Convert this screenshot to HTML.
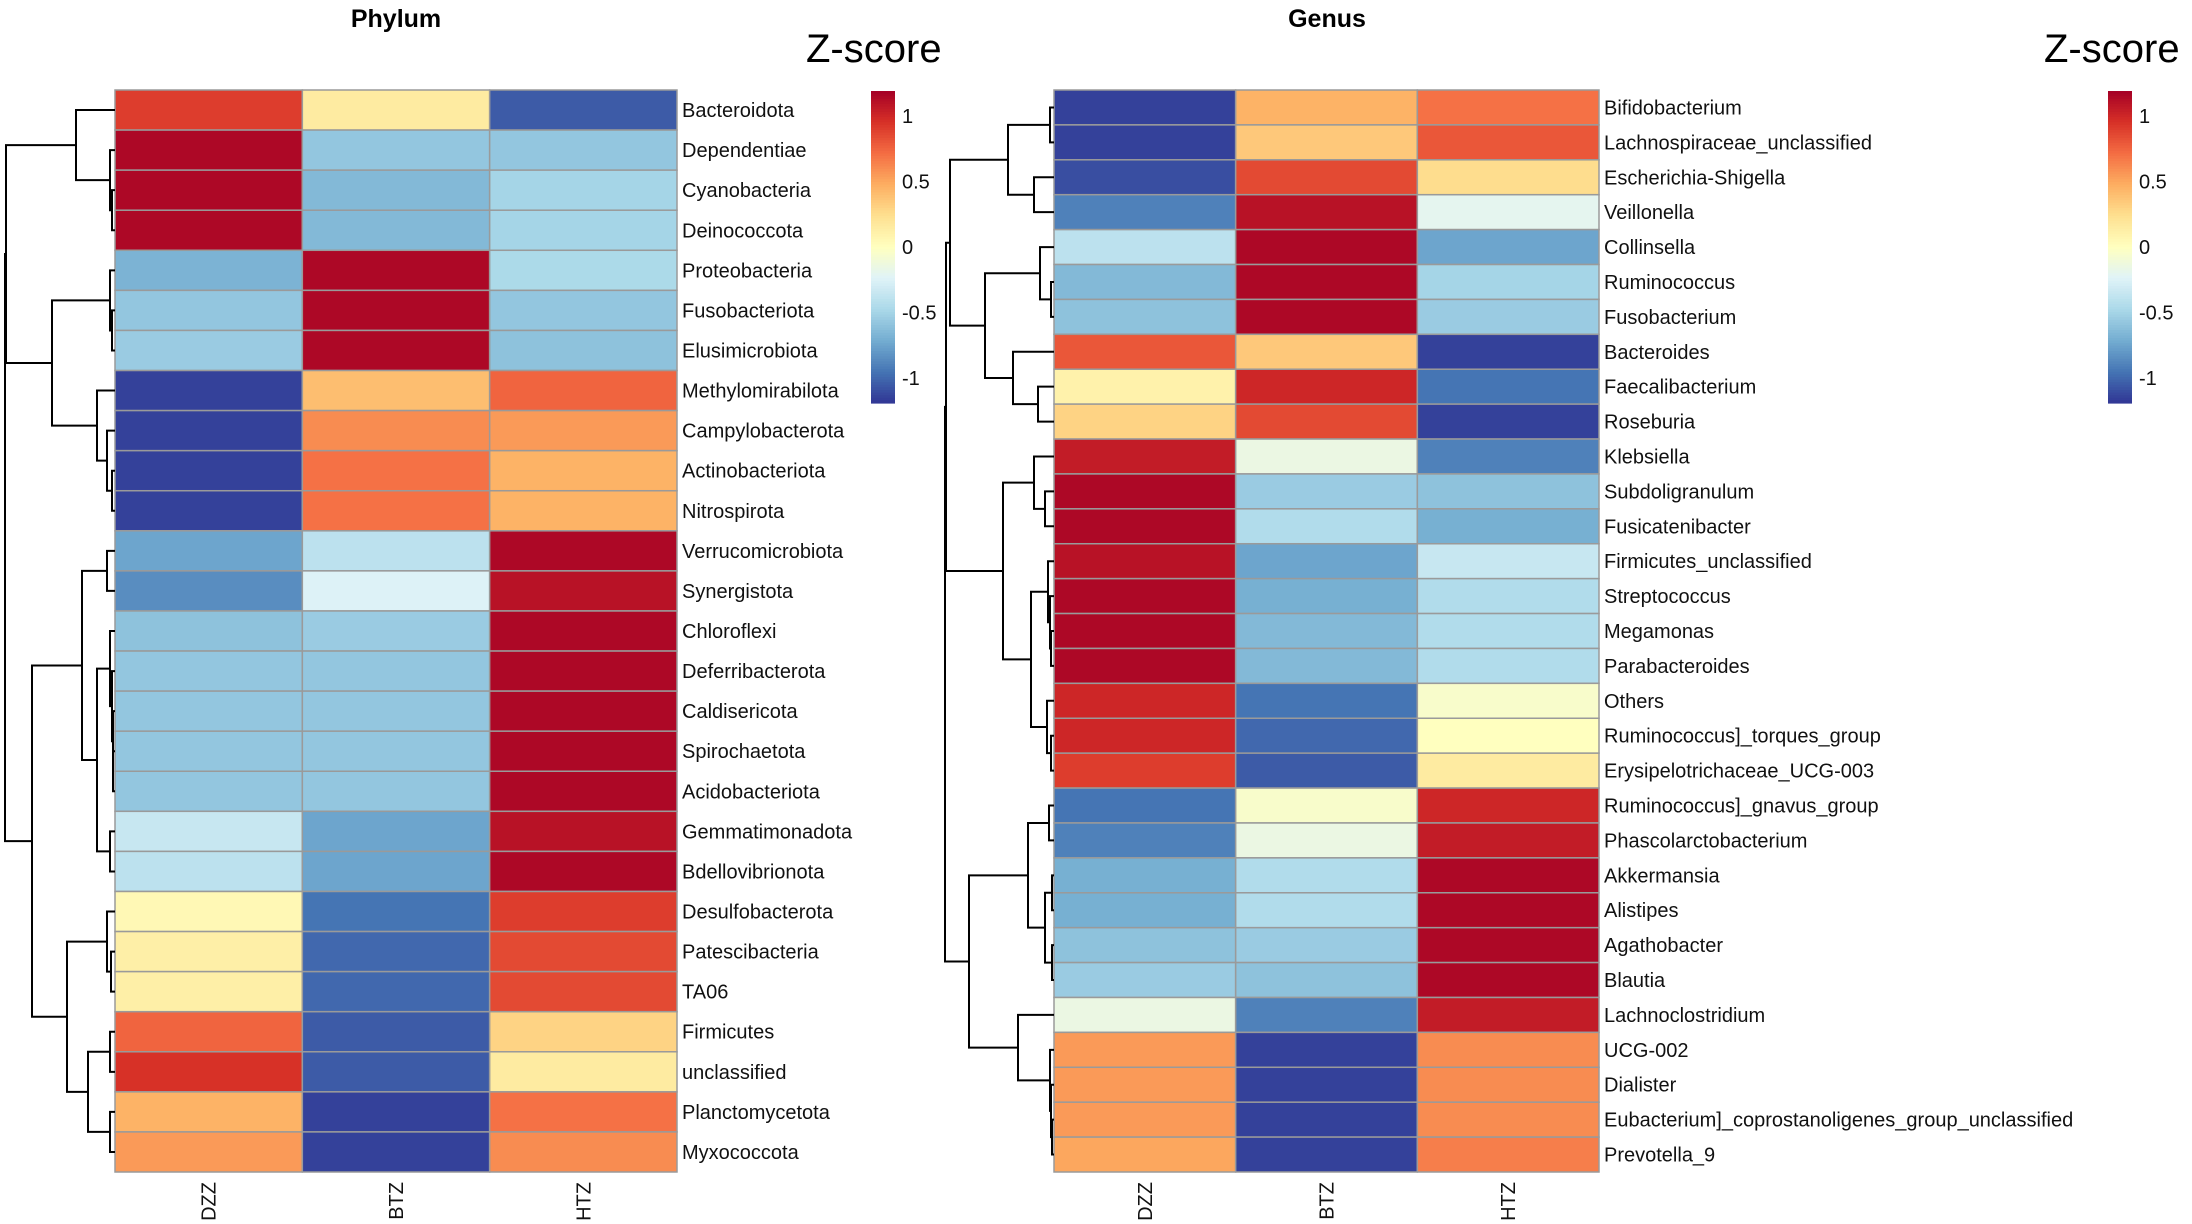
<!DOCTYPE html>
<html><head><meta charset="utf-8">
<style>
html,body{margin:0;padding:0;background:#fff;}
svg{display:block;font-family:"Liberation Sans",sans-serif;}
</style></head>
<body>
<svg id="chart" width="2192" height="1224" viewBox="0 0 2192 1224" xmlns="http://www.w3.org/2000/svg"></svg>
<script>
const columns = ["DZZ","BTZ","HTZ"];
const phylumRows = ["Bacteroidota","Dependentiae","Cyanobacteria","Deinococcota","Proteobacteria","Fusobacteriota","Elusimicrobiota","Methylomirabilota","Campylobacterota","Actinobacteriota","Nitrospirota","Verrucomicrobiota","Synergistota","Chloroflexi","Deferribacterota","Caldisericota","Spirochaetota","Acidobacteriota","Gemmatimonadota","Bdellovibrionota","Desulfobacterota","Patescibacteria","TA06","Firmicutes","unclassified","Planctomycetota","Myxococcota"];
const phylumValues = [
[0.9,0.15,-1.05],[1.15,-0.58,-0.58],[1.15,-0.65,-0.5],[1.15,-0.65,-0.5],[-0.68,1.15,-0.47],[-0.58,1.15,-0.58],[-0.55,1.15,-0.6],[-1.15,0.4,0.75],[-1.15,0.6,0.55],[-1.15,0.7,0.45],[-1.15,0.7,0.45],[-0.75,-0.4,1.15],[-0.85,-0.25,1.1],[-0.6,-0.55,1.15],[-0.58,-0.58,1.15],[-0.58,-0.58,1.15],[-0.58,-0.58,1.15],[-0.58,-0.58,1.15],[-0.35,-0.75,1.1],[-0.4,-0.75,1.15],[0.05,-0.95,0.9],[0.12,-1.0,0.85],[0.12,-1.0,0.85],[0.75,-1.05,0.3],[0.95,-1.05,0.15],[0.45,-1.15,0.7],[0.55,-1.15,0.6]];
const genusRows = ["Bifidobacterium","Lachnospiraceae_unclassified","Escherichia-Shigella","Veillonella","Collinsella","Ruminococcus","Fusobacterium","Bacteroides","Faecalibacterium","Roseburia","Klebsiella","Subdoligranulum","Fusicatenibacter","Firmicutes_unclassified","Streptococcus","Megamonas","Parabacteroides","Others","Ruminococcus]_torques_group","Erysipelotrichaceae_UCG-003","Ruminococcus]_gnavus_group","Phascolarctobacterium","Akkermansia","Alistipes","Agathobacter","Blautia","Lachnoclostridium","UCG-002","Dialister","Eubacterium]_coprostanoligenes_group_unclassified","Prevotella_9"];
const genusValues = [
[-1.15,0.45,0.7],[-1.15,0.35,0.8],[-1.1,0.85,0.25],[-0.9,1.1,-0.2],[-0.4,1.15,-0.75],[-0.65,1.15,-0.5],[-0.6,1.15,-0.55],[0.8,0.35,-1.15],[0.1,1.0,-0.95],[0.3,0.85,-1.15],[1.05,-0.15,-0.9],[1.15,-0.55,-0.6],[1.15,-0.45,-0.7],[1.1,-0.75,-0.35],[1.15,-0.7,-0.45],[1.15,-0.65,-0.45],[1.15,-0.65,-0.45],[1.0,-0.95,-0.05],[1.0,-1.0,0.0],[0.9,-1.05,0.15],[-0.95,-0.05,1.0],[-0.9,-0.15,1.05],[-0.7,-0.45,1.15],[-0.7,-0.45,1.15],[-0.6,-0.55,1.15],[-0.55,-0.6,1.15],[-0.15,-0.9,1.05],[0.55,-1.15,0.6],[0.55,-1.15,0.6],[0.55,-1.15,0.6],[0.5,-1.15,0.65]];
const legendTicks = [1,0.5,0,-0.5,-1];
// dendrogram trees: [height(px from left edge), left, right]; leaves are row indices
const phylumTree = [5,[6,[76,0,[110,1,[112,2,3]]],[52,[110,4,[112,5,6]],[97,7,[107,8,[112,9,10]]]]],[32,[82,[107,11,12],[97,[110,13,[112,14,[113,15,[113,16,17]]]],[110,18,19]]],[67,[107,20,[111,21,22]],[88,[110,23,24],[110,25,26]]]]];
const genusTree = [945,[946,[950,[1008,[1050,0,1],[1034,2,3]],[985,[1040,4,[1051,5,6]],[1013,7,[1038,8,9]]]],[1003,[1034,10,[1045,11,12]],[1031,[1048,13,[1050,14,[1051,15,16]]],[1047,17,[1051,18,19]]]]],[969,[1028,[1049,20,21],[1045,[1052,22,23],[1052,24,25]]],[1018,26,[1050,27,[1051,28,[1052,29,30]]]]]];

const NS="http://www.w3.org/2000/svg";
const svg=document.getElementById('chart');
function mk(tag,attrs,parent){const e=document.createElementNS(NS,tag);for(const k in attrs)e.setAttribute(k,attrs[k]);(parent||svg).appendChild(e);return e;}
const pal=["#313695","#4575B4","#74ADD1","#ABD9E9","#E0F3F8","#FFFFBF","#FEE090","#FDAE61","#F46D43","#D73027","#A50026"];
const VMIN=-1.19,VMAX=1.19;
function hex(h){return [1,3,5].map(i=>parseInt(h.substr(i,2),16));}
function color(v){let t=(v-VMIN)/(VMAX-VMIN);t=Math.max(0,Math.min(1,t))*(pal.length-1);const i=Math.min(pal.length-2,Math.floor(t)),f=t-i;const a=hex(pal[i]),b=hex(pal[i+1]);return "rgb("+a.map((x,k)=>Math.round(x+(b[k]-x)*f)).join(",")+")";}

function panel(cfg){
  const g=mk('g',{});
  
  
  const nR=cfg.rows.length, rh=(cfg.bottom-cfg.top)/nR, cw=(cfg.right-cfg.left)/columns.length;
  const yOf=r=>cfg.top+rh*(r+0.5);
  const xOf=c=>cfg.left+cw*c;
  cfg.values.forEach((row,r)=>row.forEach((v,c)=>{
    const rect=mk('rect',{x:xOf(c),y:cfg.top+rh*r,width:cw,height:rh,fill:color(v),stroke:"#9a9a9a","stroke-width":1.5},g);
    
    
  }));
  cfg.rows.forEach((name,r)=>{
    const t=mk('text',{x:cfg.right+5,y:yOf(r)+7,'font-size':20,fill:"#111"},g);
    t.textContent=name;
    
    
  });
  columns.forEach((name,c)=>{
    const cx=xOf(c)+cw/2+7, y=cfg.bottom+10;
    const t=mk('text',{x:cx,y:y,'font-size':20,fill:"#111",'text-anchor':'end',transform:`rotate(-90 ${cx} ${y})`},g);
    t.textContent=name;
    
    
  });
  const ti=mk('text',{x:cfg.titleX,y:27,'font-size':25,'font-weight':'bold','text-anchor':'middle',fill:"#000"},g);
  ti.textContent=cfg.title;
  
  
  // dendrogram
  const dg=mk('g',{stroke:"#000","stroke-width":2,fill:"none"},g);
  
  
  function draw(n){
    if(typeof n==='number')return {x:cfg.left,y:yOf(n)};
    const h=cfg.off+n[0];
    const a=draw(n[1]),b=draw(n[2]);
    mk('path',{d:`M${a.x},${a.y}H${h}V${b.y}H${b.x}`},dg);
    return {x:h,y:(a.y+b.y)/2};
  }
  draw(cfg.tree);
  // legend
  const lg=mk('g',{},g);
  
  
  const lt=91,lb=403,n=120;
  const ly=v=>lt+(VMAX-v)/(VMAX-VMIN)*(lb-lt);
  for(let i=0;i<n;i++){const v=VMAX-(i+0.5)*(VMAX-VMIN)/n;mk('rect',{x:cfg.legX,y:lt+i*(lb-lt)/n,width:24,height:(lb-lt)/n+0.6,fill:color(v)},lg);}
  legendTicks.forEach(v=>{const t=mk('text',{x:cfg.legX+31,y:ly(v)+7,'font-size':20,fill:"#111"},lg);t.textContent=String(v);
    
    });
  const z=mk('text',{x:cfg.zX,y:62,'font-size':40,fill:"#000"},lg);z.textContent="Z-score";
  
  
}
panel({name:'phylum',title:'Phylum',titleX:396,rows:phylumRows,values:phylumValues,tree:phylumTree,off:0,left:115,right:677,top:90,bottom:1172,legX:871,zX:806});
panel({name:'genus',title:'Genus',titleX:1327,rows:genusRows,values:genusValues,tree:genusTree,off:0,left:1054,right:1599,top:90,bottom:1172,legX:2108,zX:2044});
</script>
</body></html>
